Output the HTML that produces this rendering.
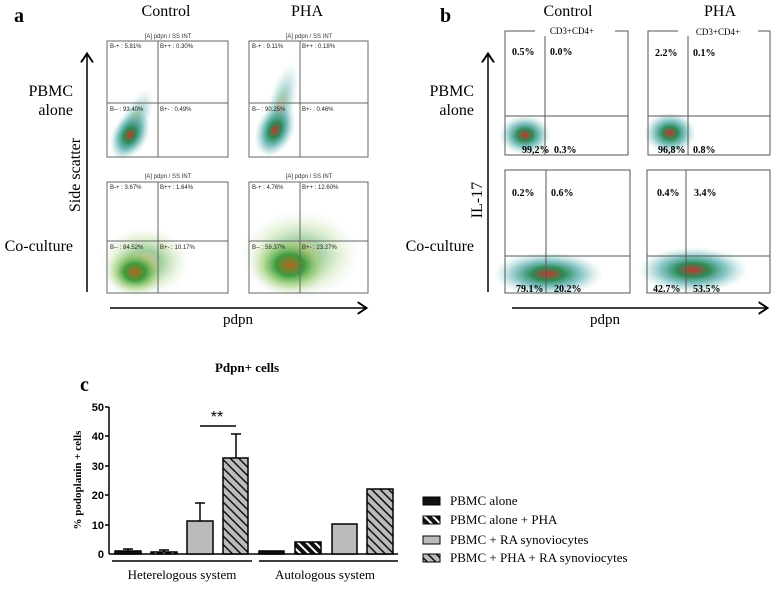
<!DOCTYPE html>
<html><head><style>
body{margin:0;background:#fff;}
svg text{font-family:"Liberation Serif",serif;}
</style></head><body>
<svg width="778" height="591" viewBox="0 0 778 591" xmlns="http://www.w3.org/2000/svg">
<defs>
<radialGradient id="g1"><stop offset="0" stop-color="#c0392b"/><stop offset="0.3" stop-color="#2e8b57"/><stop offset="0.6" stop-color="#3aa0a0" stop-opacity="0.6"/><stop offset="1" stop-color="#9cc" stop-opacity="0"/></radialGradient>
<radialGradient id="g2"><stop offset="0" stop-color="#b5651d"/><stop offset="0.35" stop-color="#3c9a3c"/><stop offset="0.7" stop-color="#9acd6a" stop-opacity="0.5"/><stop offset="1" stop-color="#cdc" stop-opacity="0"/></radialGradient>
<pattern id="h1" width="6" height="6" patternUnits="userSpaceOnUse" patternTransform="rotate(-45)"><rect width="6" height="6" fill="#111"/><rect width="2" height="6" fill="#fff"/></pattern>
<pattern id="h2" width="6" height="6" patternUnits="userSpaceOnUse" patternTransform="rotate(-45)"><rect width="6" height="6" fill="#bbb"/><rect width="1.5" height="6" fill="#111"/></pattern>
<marker id="ar" markerWidth="10" markerHeight="10" refX="5" refY="5" orient="auto"><path d="M0,1 L6,5 L0,9" fill="none" stroke="#000" stroke-width="1.3"/></marker>
</defs>

<!-- Panel a -->
<text x="14" y="22" font-size="20" font-weight="bold">a</text>
<text x="166" y="16" font-size="16" text-anchor="middle">Control</text>
<text x="307" y="16" font-size="16" text-anchor="middle">PHA</text>
<g font-size="6" fill="#333">
<text x="168" y="38" text-anchor="middle" style="font-family:'Liberation Sans',sans-serif">[A] pdpn / SS INT</text>
<text x="309" y="38" text-anchor="middle" style="font-family:'Liberation Sans',sans-serif">[A] pdpn / SS INT</text>
<text x="168" y="178" text-anchor="middle" style="font-family:'Liberation Sans',sans-serif">[A] pdpn / SS INT</text>
<text x="309" y="178" text-anchor="middle" style="font-family:'Liberation Sans',sans-serif">[A] pdpn / SS INT</text>
</g>
<!-- blobs a -->
<ellipse cx="133" cy="125" rx="14" ry="40" transform="rotate(25 133 125)" fill="url(#g1)" opacity="0.5"/>
<ellipse cx="130" cy="135" rx="18" ry="26" transform="rotate(30 130 135)" fill="url(#g1)"/>
<ellipse cx="280" cy="110" rx="14" ry="50" transform="rotate(15 280 110)" fill="url(#g1)" opacity="0.45"/>
<ellipse cx="275" cy="130" rx="19" ry="28" transform="rotate(25 275 130)" fill="url(#g1)"/>
<ellipse cx="145" cy="262" rx="45" ry="35" fill="url(#g2)" opacity="0.5"/>
<ellipse cx="135" cy="272" rx="30" ry="24" fill="url(#g2)"/>
<ellipse cx="300" cy="255" rx="60" ry="45" fill="url(#g2)" opacity="0.45"/>
<ellipse cx="290" cy="265" rx="40" ry="30" fill="url(#g2)"/>
<g fill="none" stroke="#666" stroke-width="1">
<rect x="107" y="41" width="121" height="116"/><line x1="158" y1="41" x2="158" y2="157"/><line x1="107" y1="103" x2="228" y2="103"/>
<rect x="249" y="41" width="119" height="116"/><line x1="300" y1="41" x2="300" y2="157"/><line x1="249" y1="103" x2="368" y2="103"/>
<rect x="107" y="182" width="121" height="111"/><line x1="158" y1="182" x2="158" y2="293"/><line x1="107" y1="241" x2="228" y2="241"/>
<rect x="249" y="182" width="119" height="111"/><line x1="300" y1="182" x2="300" y2="293"/><line x1="249" y1="241" x2="368" y2="241"/>
</g>
<g font-size="6" fill="#222">
<text x="110" y="48" style="font-family:'Liberation Sans',sans-serif">B-+ : 5.81%</text><text x="160" y="48" style="font-family:'Liberation Sans',sans-serif">B++ : 0.30%</text>
<text x="110" y="111" style="font-family:'Liberation Sans',sans-serif">B-- : 93.40%</text><text x="160" y="111" style="font-family:'Liberation Sans',sans-serif">B+- : 0.49%</text>
<text x="252" y="48" style="font-family:'Liberation Sans',sans-serif">B-+ : 9.11%</text><text x="302" y="48" style="font-family:'Liberation Sans',sans-serif">B++ : 0.18%</text>
<text x="252" y="111" style="font-family:'Liberation Sans',sans-serif">B-- : 90.25%</text><text x="302" y="111" style="font-family:'Liberation Sans',sans-serif">B+- : 0.46%</text>
<text x="110" y="189" style="font-family:'Liberation Sans',sans-serif">B-+ : 3.67%</text><text x="160" y="189" style="font-family:'Liberation Sans',sans-serif">B++ : 1.64%</text>
<text x="110" y="249" style="font-family:'Liberation Sans',sans-serif">B-- : 84.52%</text><text x="160" y="249" style="font-family:'Liberation Sans',sans-serif">B+- : 10.17%</text>
<text x="252" y="189" style="font-family:'Liberation Sans',sans-serif">B-+ : 4.76%</text><text x="302" y="189" style="font-family:'Liberation Sans',sans-serif">B++ : 12.60%</text>
<text x="252" y="249" style="font-family:'Liberation Sans',sans-serif">B-- : 59.37%</text><text x="302" y="249" style="font-family:'Liberation Sans',sans-serif">B+- : 23.27%</text>
</g>
<line x1="87" y1="292" x2="87" y2="55" stroke="#000" stroke-width="1.5" marker-end="url(#ar)"/>
<text transform="translate(80 175) rotate(-90)" font-size="16" text-anchor="middle">Side scatter</text>
<text x="73" y="96" font-size="16" text-anchor="end">PBMC</text>
<text x="73" y="115" font-size="16" text-anchor="end">alone</text>
<text x="73" y="251" font-size="16" text-anchor="end">Co-culture</text>
<line x1="110" y1="308" x2="365" y2="308" stroke="#000" stroke-width="1.5" marker-end="url(#ar)"/>
<text x="238" y="324" font-size="15" text-anchor="middle">pdpn</text>

<!-- Panel b -->
<text x="440" y="22" font-size="20" font-weight="bold">b</text>
<text x="568" y="16" font-size="16" text-anchor="middle">Control</text>
<text x="720" y="16" font-size="16" text-anchor="middle">PHA</text>
<ellipse cx="525" cy="135" rx="26" ry="20" fill="url(#g1)"/>
<ellipse cx="670" cy="133" rx="26" ry="21" fill="url(#g1)"/>
<ellipse cx="548" cy="274" rx="55" ry="22" fill="url(#g1)"/>
<ellipse cx="693" cy="270" rx="55" ry="23" fill="url(#g1)"/>
<g fill="none" stroke="#555" stroke-width="1">
<rect x="505" y="31" width="123" height="124"/><line x1="545" y1="31" x2="545" y2="155"/><line x1="505" y1="116" x2="628" y2="116"/>
<rect x="648" y="31" width="122" height="124"/><line x1="688" y1="31" x2="688" y2="155"/><line x1="648" y1="116" x2="770" y2="116"/>
<rect x="505" y="170" width="125" height="123"/><line x1="546" y1="170" x2="546" y2="293"/><line x1="505" y1="256" x2="630" y2="256"/>
<rect x="647" y="170" width="123" height="123"/><line x1="686" y1="170" x2="686" y2="293"/><line x1="647" y1="256" x2="770" y2="256"/>
</g>
<rect x="535" y="26" width="80" height="10" fill="#fff"/><text x="572" y="34" font-size="9" text-anchor="middle">CD3+CD4+</text>
<rect x="678" y="26" width="80" height="10" fill="#fff"/><text x="718" y="35" font-size="9" text-anchor="middle">CD3+CD4+</text>
<g font-size="10" font-weight="bold">
<text x="512" y="55">0.5%</text><text x="550" y="55">0.0%</text>
<text x="655" y="56">2.2%</text><text x="693" y="56">0.1%</text>
<text x="522" y="153">99,2%</text><text x="554" y="153">0.3%</text>
<text x="658" y="153">96,8%</text><text x="693" y="153">0.8%</text>
<text x="512" y="196">0.2%</text><text x="551" y="196">0.6%</text>
<text x="657" y="196">0.4%</text><text x="694" y="196">3.4%</text>
<text x="516" y="292">79.1%</text><text x="554" y="292">20.2%</text>
<text x="653" y="292">42.7%</text><text x="693" y="292">53.5%</text>
</g>
<line x1="488" y1="292" x2="488" y2="55" stroke="#000" stroke-width="1.5" marker-end="url(#ar)"/>
<text transform="translate(482 200) rotate(-90)" font-size="16" text-anchor="middle">IL-17</text>
<text x="474" y="96" font-size="16" text-anchor="end">PBMC</text>
<text x="474" y="115" font-size="16" text-anchor="end">alone</text>
<text x="474" y="251" font-size="16" text-anchor="end">Co-culture</text>
<line x1="512" y1="308" x2="766" y2="308" stroke="#000" stroke-width="1.5" marker-end="url(#ar)"/>
<text x="605" y="324" font-size="15" text-anchor="middle">pdpn</text>

<!-- Panel c -->
<text x="80" y="391" font-size="20" font-weight="bold">c</text>
<text x="247" y="372" font-size="13" font-weight="bold" text-anchor="middle">Pdpn+ cells</text>
<g font-size="11" font-weight="bold" text-anchor="end">
<text x="104" y="411" style="font-family:'Liberation Sans',sans-serif">50</text>
<text x="104" y="440" style="font-family:'Liberation Sans',sans-serif">40</text>
<text x="104" y="470" style="font-family:'Liberation Sans',sans-serif">30</text>
<text x="104" y="499" style="font-family:'Liberation Sans',sans-serif">20</text>
<text x="104" y="529" style="font-family:'Liberation Sans',sans-serif">10</text>
<text x="104" y="558" style="font-family:'Liberation Sans',sans-serif">0</text>
</g>
<text transform="translate(81 480) rotate(-90)" font-size="11" font-weight="bold" text-anchor="middle">% podoplanin + cells</text>
<g stroke="#000" stroke-width="1.5">
<line x1="109" y1="407" x2="109" y2="554"/><line x1="109" y1="554" x2="398" y2="554"/>
<line x1="105" y1="407" x2="109" y2="407"/><line x1="105" y1="436" x2="109" y2="436"/><line x1="105" y1="466" x2="109" y2="466"/><line x1="105" y1="495" x2="109" y2="495"/><line x1="105" y1="525" x2="109" y2="525"/>
<line x1="128" y1="549" x2="128" y2="551"/><line x1="123" y1="549" x2="133" y2="549"/>
<line x1="164" y1="550" x2="164" y2="552"/><line x1="159" y1="550" x2="169" y2="550"/>
<line x1="200" y1="503" x2="200" y2="521"/><line x1="195" y1="503" x2="205" y2="503"/>
<line x1="236" y1="434" x2="236" y2="458"/><line x1="231" y1="434" x2="241" y2="434"/>
<line x1="200" y1="426" x2="236" y2="426"/>
</g>
<g stroke="#000" stroke-width="1.5">
<rect x="115" y="551" width="26" height="3" fill="#111"/>
<rect x="151" y="552" width="26" height="2" fill="url(#h1)"/>
<rect x="187" y="521" width="26" height="33" fill="#bbb"/>
<rect x="223" y="458" width="25" height="96" fill="url(#h2)"/>
<rect x="259" y="551" width="25" height="3" fill="#111"/>
<rect x="295" y="542" width="26" height="12" fill="url(#h1)"/>
<rect x="332" y="524" width="25" height="30" fill="#bbb"/>
<rect x="367" y="489" width="26" height="65" fill="url(#h2)"/>
<line x1="112" y1="561" x2="252" y2="561"/><line x1="259" y1="561" x2="398" y2="561"/>
</g>
<text x="217" y="422" font-size="16" text-anchor="middle" style="font-family:'Liberation Sans',sans-serif">**</text>
<text x="182" y="579" font-size="13" text-anchor="middle">Heterelogous system</text>
<text x="325" y="579" font-size="13" text-anchor="middle">Autologous system</text>
<g stroke="#000" stroke-width="1">
<rect x="423" y="497" width="17" height="8" fill="#111"/>
<rect x="423" y="516" width="17" height="8" fill="url(#h1)"/>
<rect x="423" y="536" width="17" height="8" fill="#bbb"/>
<rect x="423" y="554" width="17" height="8" fill="url(#h2)"/>
</g>
<g font-size="13">
<text x="450" y="505">PBMC alone</text>
<text x="450" y="524">PBMC alone + PHA</text>
<text x="450" y="544">PBMC + RA synoviocytes</text>
<text x="450" y="562">PBMC + PHA + RA synoviocytes</text>
</g>
</svg>
</body></html>
